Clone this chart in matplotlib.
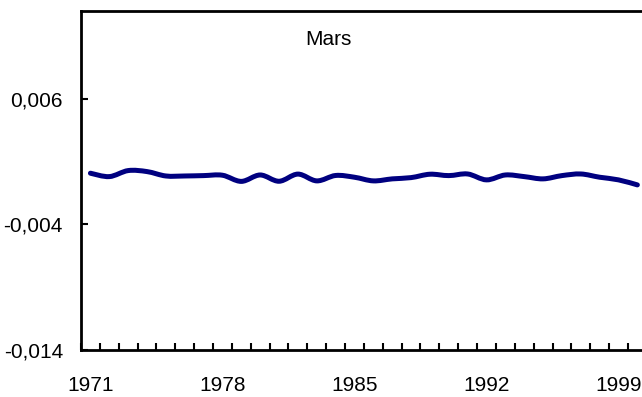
import matplotlib
matplotlib.use("Agg")
import matplotlib.pyplot as plt
import numpy as np
from matplotlib.path import Path
from matplotlib.patches import PathPatch

plt.rcParams['font.family'] = ['Liberation Sans', 'DejaVu Sans']

years = list(range(1971, 2001))
values = [0.00008, -0.00019, 0.00029, 0.00021, -0.00014, -0.00014, -0.00011, -0.00008,
          -0.00057, -0.00006, -0.00056, 0.00001, -0.00053, -0.00010, -0.00024, -0.00053,
          -0.00037, -0.00027, 0.00000, -0.00011, 0.00002, -0.00045, -0.00006, -0.00019,
          -0.00037, -0.00011, 0.00002, -0.00024, -0.00045, -0.00085]
ytick_vals = [-0.014, -0.004, 0.006]
ytick_labels = ["-0,014", "-0,004", "0,006"]
xlabel_years = [1971, 1978, 1985, 1992, 1999]
title = "Mars"

W, H = 642, 397
fig = plt.figure(figsize=(W / 100, H / 100), dpi=100)
left, right, top, bottom = 81, 81 + 30 * 18.86, 11, 350
ax = fig.add_axes([left / W, (H - bottom) / H, (right - left) / W, (bottom - top) / H])

# smoothed line (Catmull-Rom Bezier through the data points)
x = np.array(years, dtype=float)
y = np.array(values, dtype=float)
pts = np.column_stack([x, y])
n = len(pts)
verts = [pts[0]]
codes = [Path.MOVETO]
for i in range(n - 1):
    p0 = pts[i - 1] if i > 0 else pts[i]
    p1 = pts[i]
    p2 = pts[i + 1]
    p3 = pts[i + 2] if i + 2 < n else pts[i + 1]
    c1 = p1 + (p2 - p0) / 6.0
    c2 = p2 - (p3 - p1) / 6.0
    verts += [c1, c2, p2]
    codes += [Path.CURVE4] * 3
patch = PathPatch(Path(verts, codes), facecolor='none', edgecolor='#000080',
                  linewidth=3.6, capstyle='round', joinstyle='round')
ax.add_patch(patch)

ax.set_xlim(1970.5, 2000.5)
ax.set_ylim(-0.014, 0.013)

ax.set_yticks(ytick_vals)
ax.set_yticklabels(ytick_labels)
ax.set_xticks(xlabel_years)
ax.set_xticklabels([str(v) for v in xlabel_years])
ax.set_xticks(np.arange(1970.5, 2001, 1.0), minor=True)

ax.tick_params(axis='x', which='major', length=0, pad=19, labelsize=15)
ax.tick_params(axis='x', which='minor', direction='in', length=5, width=1.5)
ax.tick_params(axis='y', which='major', direction='in', length=5, width=1.5, pad=13, labelsize=15)

for s in ['left', 'bottom', 'top']:
    ax.spines[s].set_linewidth(2)
ax.spines['right'].set_visible(False)

ax.text(0.4374, (bottom - 45) / (bottom - top), title, transform=ax.transAxes,
        ha='center', va='baseline', fontsize=15)

fig.savefig("out.png", dpi=100)
